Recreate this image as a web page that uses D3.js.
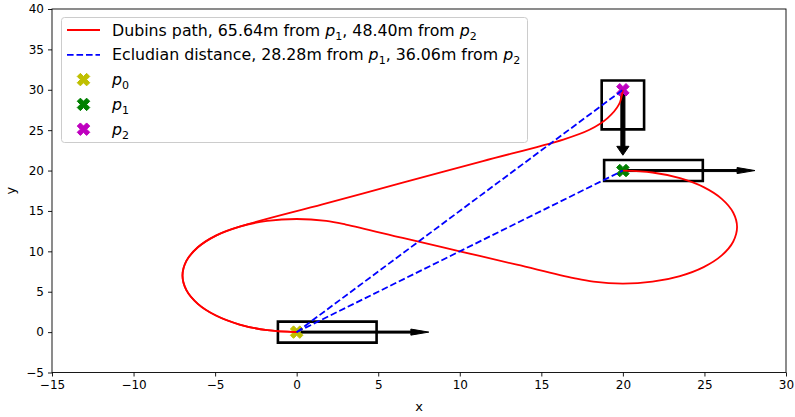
<!DOCTYPE html>
<html>
<head>
<meta charset="utf-8">
<script src="https://cdn.jsdelivr.net/npm/d3@7"></script>
<style>
body { margin: 0; background: #fff; }
text { font-family: "DejaVu Sans", sans-serif; }
</style>
</head>
<body>
<script>
const width = 795
const height = 417

// axis ticks
const xTicks = [-15, -10, -5, 0, 5, 10, 15, 20, 25, 30]
const yTicks = [-5, 0, 5, 10, 15, 20, 25, 30, 35, 40]

// poses: p0, p1, p2 (heading in degrees)
const poseNames = ['p0', 'p1', 'p2']
const poseX = [0, 20, 20]
const poseY = [0, 20, 30]
const poseHeading = [0, 0, -90]

// dubins path p0 -> p1
const dubinsP1 = [
  [0, 0], [-1.81, 0.24], [-3.5, 0.94], [-4.95, 2.05], [-6.06, 3.5], [-6.76, 5.19],
  [-7, 7], [-6.76, 8.81], [-6.06, 10.5], [-4.95, 11.95], [-3.5, 13.06], [-1.81, 13.76],
  [0, 14], [1.81, 13.76], [3.01, 13.32],
  [6.5, 11.66], [10, 10], [13.5, 8.34],
  [16.99, 6.68], [18.19, 6.24], [20, 6], [21.81, 6.24], [23.5, 6.94], [24.95, 8.05],
  [26.06, 9.5], [26.76, 11.19], [27, 13], [26.76, 14.81], [26.06, 16.5], [24.95, 17.95],
  [23.5, 19.06], [21.81, 19.76], [20, 20]
]

// dubins path p0 -> p2
const dubinsP2 = [
  [0, 0], [-1.81, 0.24], [-3.5, 0.94], [-4.95, 2.05], [-6.06, 3.5], [-6.76, 5.19],
  [-7, 7], [-6.76, 8.81], [-6.06, 10.5], [-4.95, 11.95], [-3.34, 13.15],
  [1.58, 15.82], [6.5, 18.5], [11.42, 21.17],
  [16.34, 23.84], [17.95, 25.05], [19.06, 26.5], [19.76, 28.19], [20, 30]
]

// euclidean segments: from p0 to these poses
const euclidTo = [1, 2]

const legendLabels = [
  'Dubins path, 65.64m from $p_1$, 48.40m from $p_2$',
  'Ecludian distance, 28.28m from $p_1$, 36.06m from $p_2$',
  '$p_0$', '$p_1$', '$p_2$'
]

const poseColor = ['#bfbf00', '#008000', '#bf00bf']

const pLeft = 52, pRight = 786, pTop = 9, pBottom = 372.5
const x = d3.scaleLinear().domain([-15, 30]).range([pLeft, pRight])
const y = d3.scaleLinear().domain([-5, 40]).range([pBottom, pTop])

const svg = d3.select('body').append('svg')
  .attr('width', width)
  .attr('height', height)

// axes
const xAxis = svg.append('g')
  .attr('transform', `translate(0,${pBottom})`)
  .call(d3.axisBottom(x).tickValues(xTicks).tickSize(4).tickPadding(4))
const yAxis = svg.append('g')
  .attr('transform', `translate(${pLeft},0)`)
  .call(d3.axisLeft(y).tickValues(yTicks).tickSize(4).tickPadding(4))
;[xAxis, yAxis].forEach(a => {
  a.select('.domain').remove()
  a.selectAll('line').attr('stroke', '#000').attr('stroke-width', 0.9)
  a.selectAll('text').attr('font-size', 12).attr('fill', '#000')
    .attr('font-family', '"DejaVu Sans", sans-serif')
})

svg.append('text')
  .attr('x', (pLeft + pRight) / 2).attr('y', 411)
  .attr('text-anchor', 'middle').attr('font-size', 13)
  .text('x')
svg.append('text')
  .attr('transform', `translate(15,${(pTop + pBottom) / 2}) rotate(-90)`)
  .attr('text-anchor', 'middle').attr('font-size', 13)
  .text('y')

const plot = svg.append('g')

// vehicle boxes
const boxBack = 1.15, boxFront = 4.9, boxHalf = 1.3
function boxPoints(i) {
  const a = poseHeading[i] * Math.PI / 180
  const c = Math.cos(a), s = Math.sin(a)
  return [[-boxBack, -boxHalf], [boxFront, -boxHalf], [boxFront, boxHalf], [-boxBack, boxHalf]]
    .map(([u, v]) => [x(poseX[i] + u * c - v * s), y(poseY[i] + u * s + v * c)])
}
plot.selectAll('.box')
  .data(poseNames)
  .enter().append('polygon')
    .attr('class', 'box')
    .attr('points', (d, i) => boxPoints(i).join(' '))
    .attr('fill', 'none')
    .attr('stroke', '#000')
    .attr('stroke-width', 2.6)

// heading arrows (data units)
const arrowLen = 8.1, shaftW = 0.25, headW = 0.75, headL = 1.1
function arrowPoints(i) {
  const a = poseHeading[i] * Math.PI / 180
  const c = Math.cos(a), s = Math.sin(a)
  const b = arrowLen - headL
  return [[0, -shaftW / 2], [b, -shaftW / 2], [b, -headW / 2], [arrowLen, 0],
    [b, headW / 2], [b, shaftW / 2], [0, shaftW / 2]]
    .map(([u, v]) => [x(poseX[i] + u * c - v * s), y(poseY[i] + u * s + v * c)])
}
plot.selectAll('.arrow')
  .data(poseNames)
  .enter().append('polygon')
    .attr('class', 'arrow')
    .attr('points', (d, i) => arrowPoints(i).join(' '))
    .attr('fill', '#000')
    .attr('stroke', '#000')
    .attr('stroke-width', 1)
    .attr('stroke-linejoin', 'miter')

// filled X marker like matplotlib's 'X'
const xVerts = [[0.25, 0], [0.5, 0.25], [0.25, 0.5], [0, 0.25], [-0.25, 0.5], [-0.5, 0.25],
  [-0.25, 0], [-0.5, -0.25], [-0.25, -0.5], [0, -0.25], [0.25, -0.5], [0.5, -0.25]]
function xMarker(s) {
  return 'M' + xVerts.map(([a, b]) => [a * s, b * s].join(',')).join('L') + 'Z'
}
const markerSize = 12.5

plot.selectAll('.pose')
  .data(poseNames)
  .enter().append('path')
    .attr('class', 'pose')
    .attr('d', xMarker(markerSize))
    .attr('transform', (d, i) => `translate(${x(poseX[i])},${y(poseY[i])})`)
    .attr('fill', (d, i) => poseColor[i])
    .attr('stroke', (d, i) => poseColor[i])
    .attr('stroke-width', 1)

const line = d3.line()
  .x(d => x(d[0]))
  .y(d => y(d[1]))
  .curve(d3.curveCatmullRom.alpha(0.5))

plot.selectAll('.dubins')
  .data([dubinsP1, dubinsP2])
  .enter().append('path')
    .attr('class', 'dubins')
    .attr('d', line)
    .attr('fill', 'none')
    .attr('stroke', '#ff0000')
    .attr('stroke-width', 1.8)

plot.selectAll('.euclid')
  .data(euclidTo)
  .enter().append('line')
    .attr('class', 'euclid')
    .attr('x1', x(poseX[0]))
    .attr('y1', y(poseY[0]))
    .attr('x2', d => x(poseX[d]))
    .attr('y2', d => y(poseY[d]))
    .attr('stroke', '#0000ff')
    .attr('stroke-width', 1.8)
    .attr('stroke-dasharray', '6.6,2.9')

// frame
svg.append('rect')
  .attr('x', pLeft).attr('y', pTop)
  .attr('width', pRight - pLeft).attr('height', pBottom - pTop)
  .attr('fill', 'none').attr('stroke', '#000').attr('stroke-width', 0.9)

// legend
const legend = svg.append('g')
legend.append('rect')
  .attr('x', 61.5).attr('y', 17.5)
  .attr('width', 466).attr('height', 125)
  .attr('rx', 3)
  .attr('fill', '#fff').attr('fill-opacity', 0.8)
  .attr('stroke', '#cccccc').attr('stroke-width', 1)

const rowY = i => 30 + i * 24.8
const legendFont = 15.8

legendLabels.forEach((lab, i) => {
  const cy = rowY(i)
  if (i === 0 || i === 1) {
    legend.append('line')
      .attr('x1', 67).attr('x2', 100)
      .attr('y1', cy).attr('y2', cy)
      .attr('stroke', i === 0 ? '#ff0000' : '#0000ff')
      .attr('stroke-width', 1.8)
      .attr('stroke-dasharray', i === 0 ? null : '6.6,2.9')
  } else {
    legend.append('path')
      .attr('d', xMarker(markerSize))
      .attr('transform', `translate(83.5,${cy})`)
      .attr('fill', poseColor[i - 2])
      .attr('stroke', poseColor[i - 2])
      .attr('stroke-width', 1)
  }
  const t = legend.append('text')
    .attr('x', 112)
    .attr('y', cy + legendFont * 0.36)
    .attr('font-size', legendFont)
    .attr('fill', '#000')
  const parts = lab.split(/\$p_(\d)\$/)
  let shifted = false
  parts.forEach((p, k) => {
    if (k % 2 === 0) {
      if (p.length) {
        t.append('tspan').attr('dy', shifted ? -4 : null).text(p)
        shifted = false
      }
    } else {
      t.append('tspan').attr('dy', shifted ? -4 : null)
        .attr('font-style', 'italic').text('p')
      t.append('tspan').attr('font-size', legendFont * 0.7).attr('dy', 4).text(p)
      shifted = true
    }
  })
})
</script>
</body>
</html>
